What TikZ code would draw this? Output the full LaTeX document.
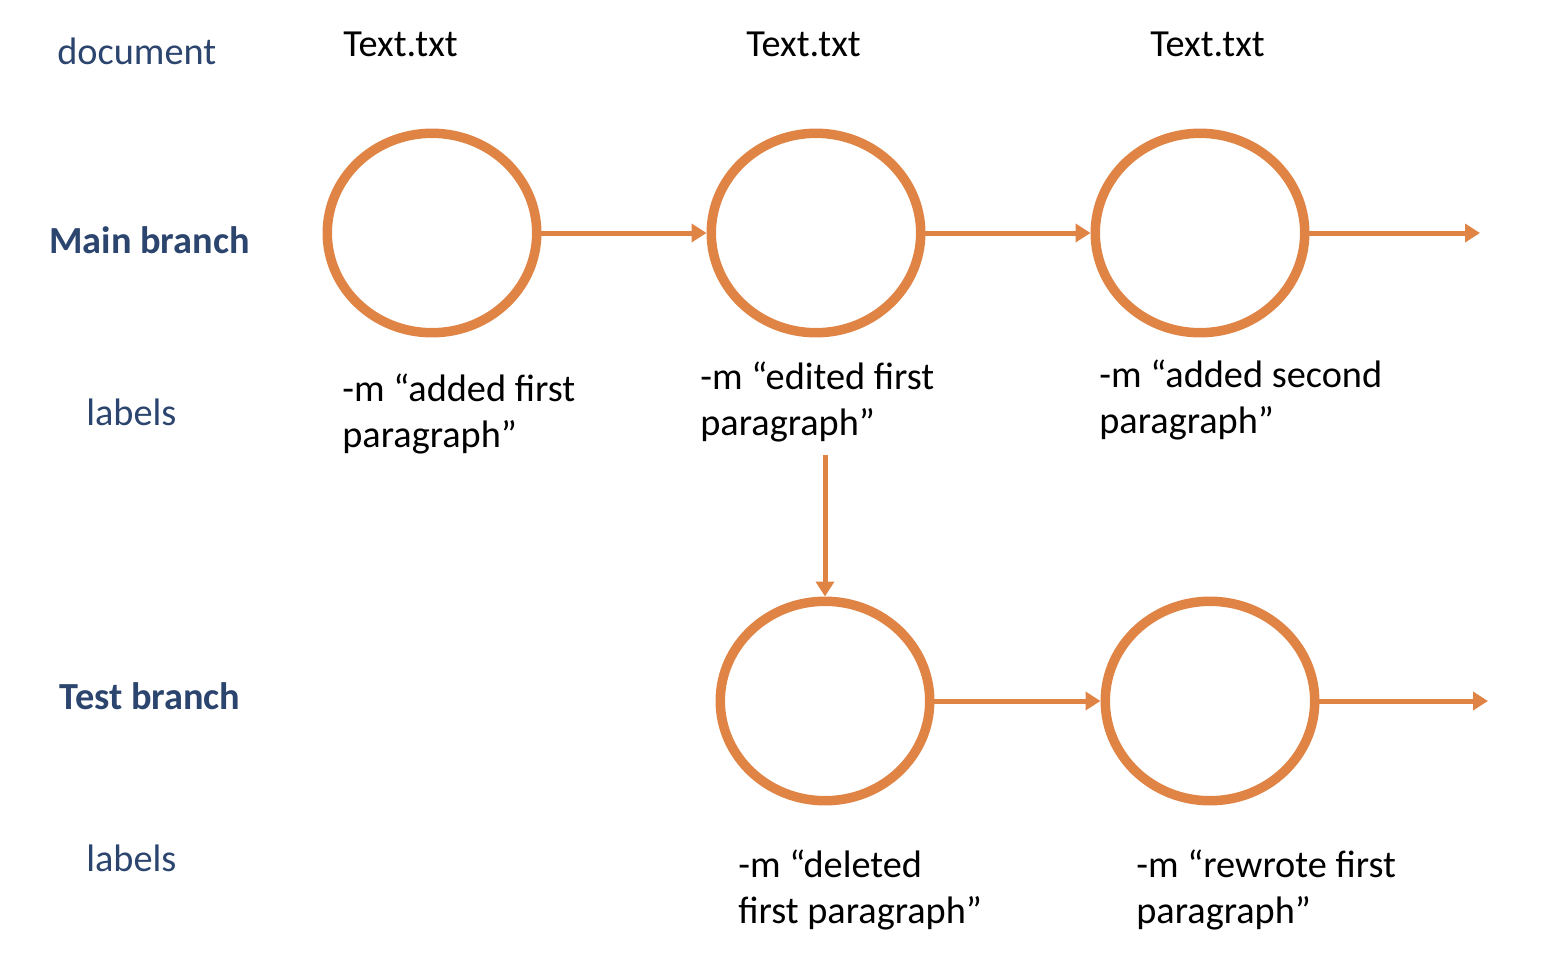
\documentclass[tikz,border=0pt]{standalone}
\usepackage{fontspec}
\setmainfont{Carlito}
\usetikzlibrary{arrows.meta,shapes.geometric}
\definecolor{gorange}{RGB}{224,132,70}
\definecolor{gnavy}{RGB}{44,69,110}
\begin{document}
\begin{tikzpicture}[x=0.02cm,y=-0.02cm,
  commit/.style={draw=gorange,line width=0.19cm,ellipse,minimum width=4.19cm,minimum height=3.99cm,inner sep=0pt},
  link/.style={draw=gorange,line width=0.1cm,-{Triangle[length=0.3cm,width=0.36cm]}},
  txt/.style={font=\fontsize{21.8pt}{26pt}\selectfont,inner sep=0pt,anchor=base west,align=left},
  side/.style={txt,text=gnavy},
  sidebold/.style={side,font=\fontsize{21.8pt}{26pt}\selectfont\bfseries}]
\useasboundingbox (0,0) rectangle (1548,970);
% side labels
\node[side] (doc) at (57,64) {document};
\node[sidebold] (mainb) at (49,253) {Main branch};
\node[side] (lab1) at (86,425) {labels};
\node[sidebold] (testb) at (59,709) {Test branch};
\node[side] (lab2) at (86,871) {labels};
% document names
\node[txt] (t1) at (343,56) {Text.txt};
\node[txt] (t2) at (746,56) {Text.txt};
\node[txt] (t3) at (1150,56) {Text.txt};
% commits
\node[commit] (c1) at (432,233) {};
\node[commit] (c2) at (816,233) {};
\node[commit] (c3) at (1200,233) {};
\node[commit] (c4) at (825,701) {};
\node[commit] (c5) at (1210,701) {};
% commit labels (anchored at the baseline of their last line)
\node[txt] (m1) at (342,447) {-m “added first\\paragraph”};
\node[txt] (m2) at (700,435) {-m “edited first\\paragraph”};
\node[txt] (m3) at (1099,433) {-m “added second\\paragraph”};
\node[txt] (m4) at (738,923) {-m “deleted\\first paragraph”};
\node[txt] (m5) at (1136,923) {-m “rewrote first\\paragraph”};
% connectors
\coordinate (e1) at (1480,233);
\coordinate (e2) at (1488,701);
\coordinate (vs) at (825,455);
\draw[link] (c1) -- (c2);
\draw[link] (c2) -- (c3);
\draw[link] (c3.east) -- (e1);
\draw[link] (vs) -- (c4.north);
\draw[link] (c4) -- (c5);
\draw[link] (c5.east) -- (e2);
\end{tikzpicture}
\end{document}
